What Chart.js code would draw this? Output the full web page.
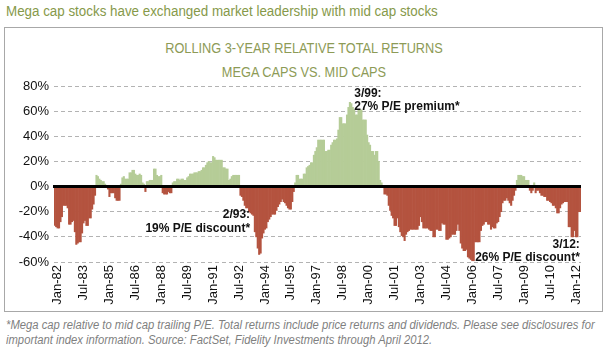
<!DOCTYPE html>
<html>
<head>
<meta charset="utf-8">
<script src="https://cdn.jsdelivr.net/npm/chart.js@4.4.1/dist/chart.umd.min.js"></script>
<style>
  body { margin: 0; width: 608px; height: 350px; overflow: hidden; position: relative; background: #fff;
         font-family: "Liberation Sans", Arial, sans-serif; }
  #heading { position: absolute; left: 6px; top: 3px; font-size: 14px; color: #86994a; white-space: nowrap;
             transform: scaleX(0.955); transform-origin: left top; }
  #frame { position: absolute; left: 4px; top: 27px; width: 597px; height: 283px; border: 1px solid #a8a8a8; }
  .title { position: absolute; left: 0; width: 608px; text-align: center; font-size: 14px; color: #8d9b56;
           white-space: nowrap; transform: scaleX(0.91); transform-origin: 304px top; }
  #note { position: absolute; left: 6px; top: 318px; font-size: 12.5px; line-height: 15px; color: #7f7f7f;
          font-style: italic; white-space: nowrap; transform: scaleX(0.9); transform-origin: left top; }
  #wrap { position: absolute; left: 0; top: 0; width: 608px; height: 350px; }
</style>
</head>
<body>
<div id="heading">Mega cap stocks have exchanged market leadership with mid cap stocks</div>
<div id="frame"></div>
<div class="title" style="top:40px">ROLLING 3-YEAR RELATIVE TOTAL RETURNS</div>
<div class="title" style="top:64px">MEGA CAPS VS. MID CAPS</div>
<div id="note">*Mega cap relative to mid cap trailing P/E. Total returns include price returns and dividends. Please see disclosures for<br>important index information. Source: FactSet, Fidelity Investments through April 2012.</div>
<div id="wrap"><canvas id="chart"></canvas></div>
<script>
// Rolling 3-year relative return, mega caps vs. mid caps (%), monthly, Nov-81 .. Apr-12
const firstMonth = { year: 1981, month: 10 };   // Nov-81 (0-based month)

const values1980s = [ // Nov-81 .. Dec-89
    -31, -32, -33, -33, -28, -24, -15, -15, -15, -17, -30, -30, -28, -27, -36, -46, -45, -44, -44, -37,
    -29, -27, -31, -31, -25, -25, -18, -14, -7, 9, 8, 6, 5, 4, 4, 2, 1, -2, -8, -5,
    -5, -5, -9, -11, -11, -11, 2, 7, 8, 6, 6, 6, 11, 11, 13, 13, 10, 9, 9, 10,
    9, 3, 2, -4, 4, 4, 5, 5, 5, 14, 14, 9, 8, 8, 9, -5, -6, -6, -6, -4,
    -5, -5, 3, 4, 4, 6, 6, 5, 6, 6, 5, 5, 7, 8, 10, 10, 10, 11
];
const values1990s = [ // Jan-90 .. Dec-99
    11, 11, 12, 12, 13, 15, 15, 17, 19, 20, 19, 19, 24, 23, 21, 21, 21, 21, 21, 15,
    15, 14, 14, 5, 6, 8, 9, 9, 9, 9, 9, -7, -8, -11, -15, -17, -17, -20, -21, -22,
    -23, -36, -40, -49, -54, -53, -41, -37, -34, -33, -28, -26, -24, -22, -22, -22, -19, -16, -14, -12,
    -10, -12, -13, -15, -17, -18, -18, -12, -4, 3, 9, 9, 6, 6, 6, 10, 10, 15, 16, 17,
    19, 19, 25, 28, 31, 37, 37, 37, 37, 37, 28, 28, 29, 29, 33, 35, 37, 37, 38, 45,
    55, 55, 50, 50, 50, 57, 63, 67, 66, 63, 61, 57, 57, 61, 61, 61, 53, 53, 53, 41
];
const values2000s = [ // Jan-00 .. Dec-09
    35, 33, 28, 28, 25, 28, 28, 20, 5, 3, 1, -6, -6, -7, -15, -19, -23, -25, -31, -31,
    -25, -32, -36, -39, -40, -43, -38, -36, -35, -34, -34, -34, -34, -34, -34, -31, -24, -28, -33, -33,
    -33, -33, -34, -35, -35, -40, -40, -34, -34, -35, -35, -29, -30, -30, -42, -42, -41, -40, -38, -38,
    -38, -35, -30, -35, -45, -49, -51, -51, -50, -56, -57, -58, -59, -59, -44, -44, -44, -44, -35, -31,
    -30, -28, -28, -30, -30, -34, -32, -33, -33, -29, -28, -24, -20, -13, -11, -11, -9, -11, -13, -15,
    -11, -7, -3, 5, 9, 9, 9, 8, 8, 5, 5, 5, -3, -5, -3, 3, -5, -3, -3, -5
];
const values2010s = [ // Jan-10 .. Apr-12
    -7, -7, -8, -8, -11, -11, -12, -13, -15, -15, -17, -21, -21, -17, -14, -13, -12, -12, -12, -32,
    -32, -40, -40, -35, -40, -40, -20, -20
];

const tickLabels = ['Jan-82', 'Jul-83', 'Jan-85', 'Jul-86', 'Jan-88', 'Jul-89', 'Jan-91', 'Jul-92',
    'Jan-94', 'Jul-95', 'Jan-97', 'Jul-98', 'Jan-00', 'Jul-01', 'Jan-03', 'Jul-04', 'Jan-06',
    'Jul-07', 'Jan-09', 'Jul-10', 'Jan-12'];

const callouts = [
    { lines: ['3/99:', '27% P/E premium*'], month: 'Mar-99', value: 74, align: 'left', dx: 0 },
    { lines: ['2/93:', '19% P/E discount*'], month: 'Feb-93', value: -22.5, align: 'right', dx: 1 },
    { lines: ['3/12:', '26% P/E discount*'], month: 'Mar-12', value: -46, align: 'right', dx: 1 },
];

const values = values1980s.concat(values1990s, values2000s, values2010s);

const monthNames = ['Jan', 'Feb', 'Mar', 'Apr', 'May', 'Jun', 'Jul', 'Aug', 'Sep', 'Oct', 'Nov', 'Dec'];
const labels = values.map((v, i) =>
{
    const m = firstMonth.month + i;
    const y = firstMonth.year + Math.floor(m / 12);
    return monthNames[m % 12] + '-' + String(y % 100).padStart(2, '0');
});

const premiumColor = '#b5cc97';
const discountColor = '#b4533f';

Chart.defaults.font.family = '"Liberation Sans", Arial, sans-serif';

// black zero line on top of the bars
const zeroLine = {
    id: 'zeroLine',
    afterDatasetsDraw(chart)
    {
        const { ctx, chartArea, scales } = chart;
        const y = scales.y.getPixelForValue(0);
        ctx.save();
        ctx.strokeStyle = '#000';
        ctx.lineWidth = 3;
        ctx.beginPath();
        ctx.moveTo(chartArea.left - 1, y);
        ctx.lineTo(chartArea.right, y);
        ctx.stroke();
        ctx.restore();
    }
};

// bold notes next to the bars
const calloutText = {
    id: 'calloutText',
    afterDatasetsDraw(chart)
    {
        const { ctx, scales } = chart;
        ctx.save();
        ctx.font = 'bold 12px "Liberation Sans", Arial, sans-serif';
        ctx.fillStyle = '#111';
        ctx.textBaseline = 'middle';
        callouts.forEach(c =>
        {
            const x = scales.x.getPixelForValue(labels.indexOf(c.month)) + c.dx;
            const y = scales.y.getPixelForValue(c.value);
            ctx.textAlign = c.align;
            c.lines.forEach((line, k) => ctx.fillText(line, x, y + k * 13.5));
        });
        ctx.restore();
    }
};

new Chart(document.getElementById('chart').getContext('2d'), {
    type: 'bar',
    data: {
        labels: labels,
        datasets: [{
            data: values,
            backgroundColor: c => (c.raw >= 0 ? premiumColor : discountColor),
            borderWidth: 0,
            barPercentage: 1,
            categoryPercentage: 1,
        }]
    },
    options: {
        responsive: true,
        maintainAspectRatio: false,
        animation: false,
        layout: { padding: { left: 0, right: 27, top: 86, bottom: 38 } },
        plugins: {
            legend: { display: false },
            tooltip: { enabled: false },
        },
        scales: {
            x: {
                grid: { display: false, drawTicks: false },
                border: { display: false },
                ticks: {
                    autoSkip: false,
                    minRotation: 90,
                    maxRotation: 90,
                    padding: 3,
                    color: '#111',
                    font: { size: 13 },
                    callback: function (value)
                    {
                        const l = labels[value];
                        return tickLabels.includes(l) ? l : '';
                    }
                },
                afterFit: s => { s.height = 50; }
            },
            y: {
                min: -60,
                max: 80,
                ticks: {
                    stepSize: 20,
                    padding: 5,
                    color: '#111',
                    font: { size: 13 },
                    callback: v => v + '%'
                },
                grid: {
                    drawTicks: false,
                    lineWidth: 1,
                    color: c => (c.tick && c.tick.value === 0 ? 'rgba(0,0,0,0)' : '#b3b3b3'),
                },
                border: { display: false, dash: [4, 3] },
                afterFit: s => { s.width = 54; }
            }
        }
    },
    plugins: [zeroLine, calloutText]
});
</script>
</body>
</html>
